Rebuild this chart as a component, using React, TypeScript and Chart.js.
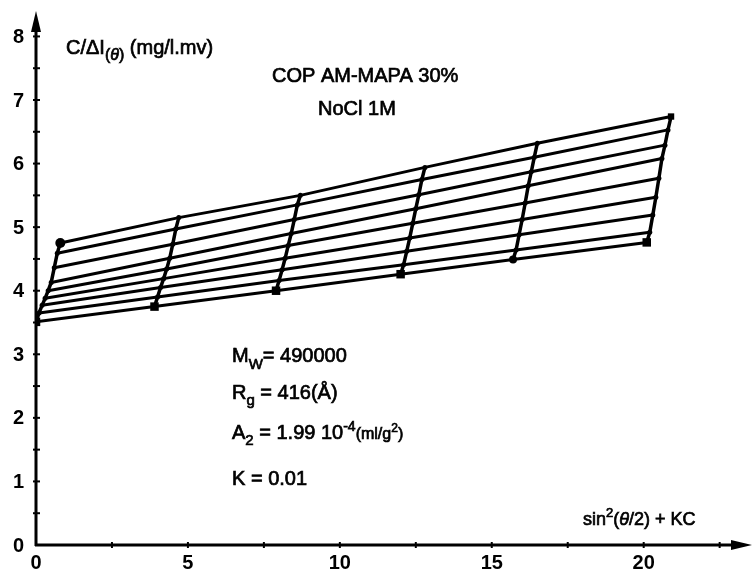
import React, { useEffect, useRef } from "react";
import { Chart, registerables } from "chart.js";

Chart.register(...registerables);

// sin^2(θ/2) term of each measuring angle
const angleTerms = [0, 3.9, 7.9, 12.0, 15.7, 20.1];
// K·C offset of each concentration
const kcTerms = [0, 0.1, 0.2, 0.3, 0.4, 0.5, 0.6, 0.7, 0.8];

// C/ΔI(θ) read for each concentration line (bottom → top), one value per angle
const conc1 = [3.51, 3.75, 4.0, 4.26, 4.49, 4.76];
const conc2 = [3.65, 3.9, 4.16, 4.41, 4.64, 4.92];
const conc3 = [3.77, 4.05, 4.33, 4.62, 4.88, 5.19];
const conc4 = [3.88, 4.19, 4.51, 4.83, 5.12, 5.47];
const conc5 = [4.0, 4.34, 4.71, 5.06, 5.38, 5.77];
const conc6 = [4.13, 4.51, 4.9, 5.29, 5.65, 6.08];
const conc7 = [4.36, 4.73, 5.12, 5.51, 5.87, 6.29];
const conc8 = [4.59, 4.97, 5.35, 5.75, 6.1, 6.53];
const conc9 = [4.75, 5.15, 5.5, 5.94, 6.32, 6.74];
const concLines = [conc1, conc2, conc3, conc4, conc5, conc6, conc7, conc8, conc9];

const xTickLabels = [0, 5, 10, 15, 20];
const yTickLabels = [0, 1, 2, 3, 4, 5, 6, 7, 8];
const xMinorStep = 2.5;
const yMinorStep = 0.5;

const X_MAX = 23.4;
const Y_MAX = 8.4;
const FONT = "'Liberation Sans', Arial, sans-serif";

type Seg = { t: string; size: number; dy?: number; italic?: boolean };

function drawSegs(ctx: CanvasRenderingContext2D, x: number, y: number, segs: Seg[]) {
  let cx = x;
  ctx.textAlign = "left";
  ctx.textBaseline = "alphabetic";
  ctx.lineWidth = 0.7;
  ctx.strokeStyle = "#000";
  for (const s of segs) {
    ctx.font = `${s.italic ? "italic " : ""}${s.size}px ${FONT}`;
    ctx.fillText(s.t, cx, y + (s.dy || 0));
    ctx.strokeText(s.t, cx, y + (s.dy || 0));
    cx += ctx.measureText(s.t).width;
  }
}

const decorPlugin = {
  id: "decor",
  beforeDatasetsDraw(chart: any) {
    const ctx: CanvasRenderingContext2D = chart.ctx;
    const xs = chart.scales.x;
    const ys = chart.scales.y;
    const x0 = xs.getPixelForValue(0);
    const y0 = ys.getPixelForValue(0);
    ctx.save();
    ctx.strokeStyle = "#000";
    ctx.fillStyle = "#000";
    ctx.lineWidth = 3;
    // y axis
    ctx.beginPath();
    ctx.moveTo(x0, y0 + 1);
    ctx.lineTo(x0, 24);
    ctx.stroke();
    ctx.beginPath();
    ctx.moveTo(x0, 11);
    ctx.lineTo(x0 - 5, 32);
    ctx.lineTo(x0 + 5, 32);
    ctx.closePath();
    ctx.fill();
    // x axis
    ctx.beginPath();
    ctx.moveTo(x0 - 1, y0);
    ctx.lineTo(738, y0);
    ctx.stroke();
    ctx.beginPath();
    ctx.moveTo(752, y0);
    ctx.lineTo(731, y0 - 5);
    ctx.lineTo(731, y0 + 5);
    ctx.closePath();
    ctx.fill();
    // minor ticks
    ctx.lineWidth = 2;
    for (let v = yMinorStep; v <= 8.001; v += yMinorStep) {
      const py = ys.getPixelForValue(v);
      ctx.beginPath();
      ctx.moveTo(x0 - 3, py);
      ctx.lineTo(x0 + 4, py);
      ctx.stroke();
    }
    for (let v = xMinorStep; v <= 22.501; v += xMinorStep) {
      const px = xs.getPixelForValue(v);
      ctx.beginPath();
      ctx.moveTo(px, y0 - 3);
      ctx.lineTo(px, y0 + 3);
      ctx.stroke();
    }
    // tick labels
    ctx.font = `bold 20px ${FONT}`;
    ctx.textAlign = "right";
    ctx.textBaseline = "middle";
    for (const v of yTickLabels) {
      const py = ys.getPixelForValue(v);
      ctx.fillText(String(v), x0 - 12, py + 1);
    }
    ctx.textAlign = "center";
    for (const v of xTickLabels) {
      const px = xs.getPixelForValue(v);
      ctx.fillText(String(v), px, y0 + 18);
    }
    ctx.restore();
  },
  afterDraw(chart: any) {
    const ctx: CanvasRenderingContext2D = chart.ctx;
    ctx.save();
    ctx.fillStyle = "#000";
    drawSegs(ctx, 66, 54, [
      { t: "C/ΔI", size: 20 },
      { t: "(", size: 16, dy: 6 },
      { t: "θ", size: 16, dy: 6, italic: true },
      { t: ")", size: 16, dy: 6 },
      { t: " (mg/l.mv)", size: 20 },
    ]);
    drawSegs(ctx, 272, 82, [{ t: "COP AM-MAPA 30%", size: 20 }]);
    drawSegs(ctx, 318, 115, [{ t: "NoCl 1M", size: 20 }]);
    drawSegs(ctx, 232, 362, [
      { t: "M", size: 20 },
      { t: "W", size: 15, dy: 7 },
      { t: "= 490000", size: 20 },
    ]);
    drawSegs(ctx, 232, 399, [
      { t: "R", size: 20 },
      { t: "g", size: 15, dy: 6 },
      { t: " = 416(Å)", size: 20 },
    ]);
    drawSegs(ctx, 232, 439, [
      { t: "A", size: 20 },
      { t: "2", size: 15, dy: 6 },
      { t: " = 1.99 10", size: 20 },
      { t: "-4", size: 14, dy: -8 },
      { t: "(ml/g", size: 16 },
      { t: "2", size: 12, dy: -7 },
      { t: ")", size: 16 },
    ]);
    drawSegs(ctx, 232, 485, [{ t: "K = 0.01", size: 20 }]);
    drawSegs(ctx, 583, 525, [
      { t: "sin", size: 18 },
      { t: "2", size: 13, dy: -8 },
      { t: "(", size: 18 },
      { t: "θ", size: 18, italic: true },
      { t: "/2) + KC", size: 18 },
    ]);
    ctx.restore();
  },
};

export default function App() {
  const ref = useRef<HTMLCanvasElement | null>(null);
  useEffect(() => {
    document.body.style.margin = "0";
    document.body.style.overflow = "hidden";
    const canvas = ref.current;
    if (!canvas) return;

    const concDatasets = concLines.map((vals, i) => ({
      label: `c${i + 1}`,
      data: angleTerms.map((s, j) => ({ x: s + kcTerms[i], y: vals[j] })),
      showLine: true,
      borderColor: "#000",
      borderWidth: 3,
      pointRadius: 0,
      tension: 0,
    }));

    const angleDatasets = angleTerms.map((s, j) => {
      const n = kcTerms.length;
      const radius = kcTerms.map((_, i) => {
        if (j === 0 && i === n - 1) return 5;
        if (i === 0) return j === 4 ? 4 : 6;
        if (j === 5 && i === n - 1) return 4.5;
        return 2.5;
      });
      const style = kcTerms.map((_, i) =>
        i === 0 && j !== 4 ? "rect" : j === 5 && i === n - 1 ? "rect" : "circle"
      );
      return {
        label: `a${j + 1}`,
        data: kcTerms.map((k, i) => ({ x: s + k, y: concLines[i][j] })),
        showLine: true,
        borderColor: "#000",
        borderWidth: 3.5,
        pointRadius: radius,
        pointStyle: style,
        pointBackgroundColor: "#000",
        pointBorderColor: "#000",
        pointBorderWidth: 0,
        tension: 0,
      };
    });

    const chart = new Chart(canvas, {
      type: "scatter",
      data: { datasets: [...concDatasets, ...angleDatasets] as any },
      options: {
        animation: false,
        responsive: false,
        devicePixelRatio: 1,
        layout: { padding: { left: 36, right: 2, top: 11, bottom: 28 } },
        plugins: { legend: { display: false }, tooltip: { enabled: false } },
        scales: {
          x: { type: "linear", min: 0, max: X_MAX, display: false },
          y: { type: "linear", min: 0, max: Y_MAX, display: false },
        },
      },
      plugins: [decorPlugin],
    });
    return () => chart.destroy();
  }, []);

  return (
    <div style={{ width: 753, height: 573, background: "#fff" }}>
      <canvas ref={ref} width={753} height={573} style={{ display: "block" }} />
    </div>
  );
}
